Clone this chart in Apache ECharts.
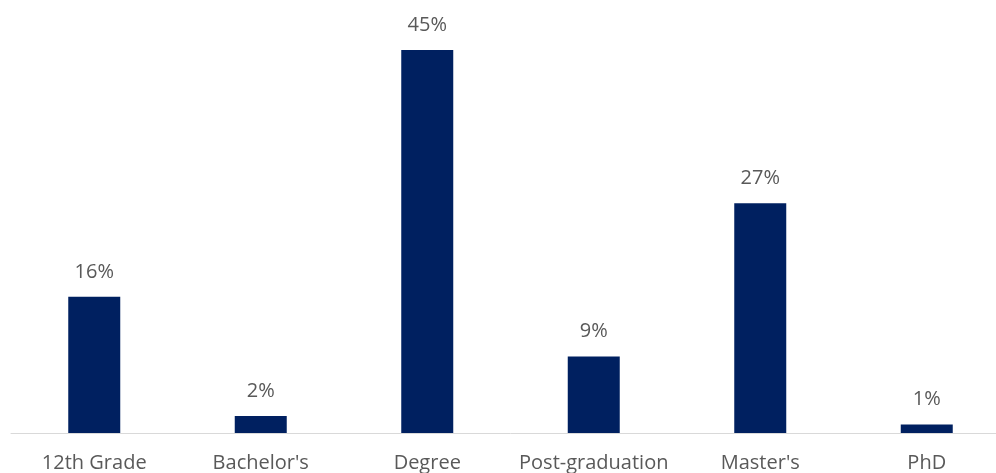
<!DOCTYPE html>
<html><head><meta charset="utf-8">
<script src="https://cdn.jsdelivr.net/npm/echarts@6/dist/echarts.min.js"></script>
<style>html,body{margin:0;padding:0;background:#fff;overflow:hidden;width:996px;height:473px}#c{width:1010px;height:473px}</style>
</head><body><div id="c"></div>
<script>
const categories = ["12th Grade", "Bachelor's", "Degree", "Post-graduation", "Master's", "PhD"];
const values = [16, 2, 45, 9, 27, 1];
const chart = echarts.init(document.getElementById('c'), null, {renderer: 'canvas'});
chart.setOption({
  animation: false,
  grid: {left: 11, right: 0, top: 7.4, bottom: 40, containLabel: false},
  xAxis: {
    type: 'category', data: categories,
    axisLine: {show: true, lineStyle: {color: '#d9d9d9', width: 1}},
    axisTick: {show: false},
    axisLabel: {color: '#595959', fontSize: 20, fontFamily: 'Open Sans', margin: 20, interval: 0}
  },
  yAxis: {type: 'value', min: 0, max: 50, show: false, splitLine: {show: false}},
  series: [{
    type: 'bar', data: values, barWidth: 52,
    itemStyle: {color: '#002060'},
    label: {show: true, position: 'top', distance: 15, formatter: '{c}%', color: '#595959', fontSize: 20, fontFamily: 'Open Sans'}
  }]
});
</script></body></html>
